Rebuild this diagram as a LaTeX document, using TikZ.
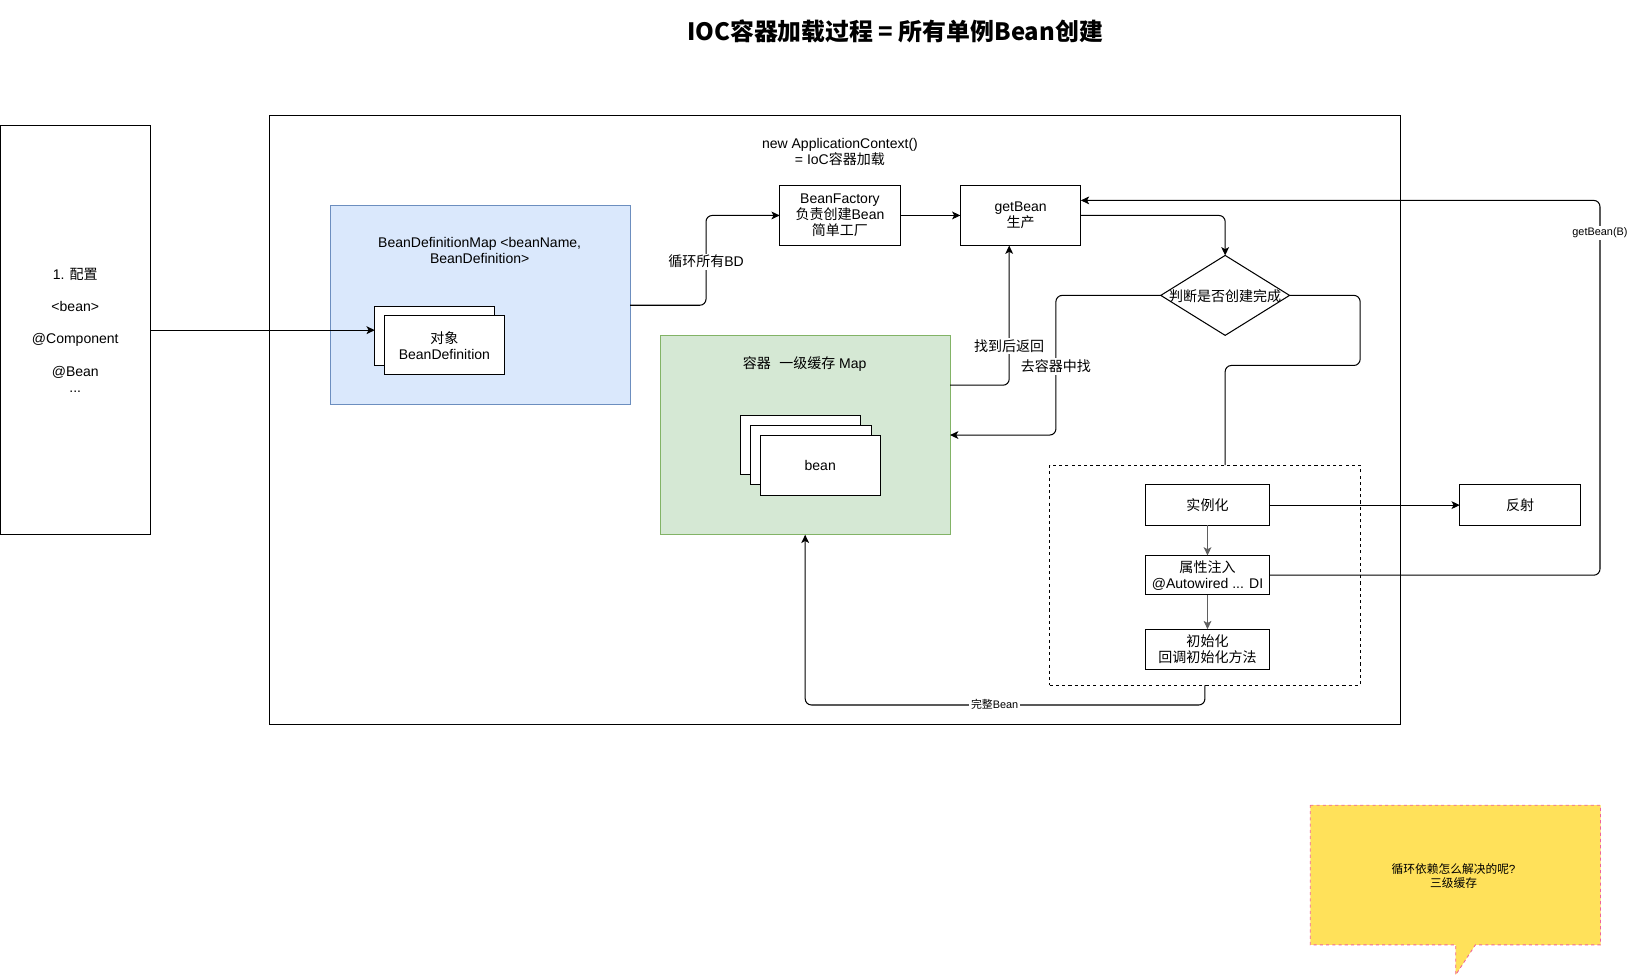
\documentclass[tikz,border=0pt]{standalone}
\usepackage{fontspec}
\setmainfont{Liberation Sans}
\newfontfamily\cjkf{Noto Sans CJK SC}
\newcommand\zh[1]{{\cjkf #1}}
\usetikzlibrary{shapes.geometric,arrows.meta,calc}

\definecolor{bdfill}{HTML}{DAE8FC}
\definecolor{bdline}{HTML}{6C8EBF}
\definecolor{cachefill}{HTML}{D5E8D4}
\definecolor{cacheline}{HTML}{82B366}
\definecolor{notefill}{RGB}{255,225,90}
\definecolor{noteline}{RGB}{240,100,150}
\definecolor{stepline}{RGB}{95,95,95}

\begin{document}
\begin{tikzpicture}[x=1pt,y=-1pt,line width=1pt,
  base/.style={font=\fontsize{13.5}{15.5}\selectfont, align=center, inner sep=0pt, outer sep=0pt},
  box/.style={base, draw, fill=white},
  small/.style={font=\fontsize{10.5}{12.5}\selectfont},
  lbl/.style={base, fill=white, inner sep=1.5pt},
  arr/.style={-{Stealth[length=8pt,width=7.5pt,inset=2pt]}, rounded corners=6pt},
  link/.style={rounded corners=6pt}]

\useasboundingbox (0,0) rectangle (1568,940);

% title
\node[base, font=\fontsize{23}{27}\selectfont\cjkf\bfseries] (title) at (862,30)
  {IOC容器加载过程 = 所有单例Bean创建};

% configuration sources
\node[box, minimum width=144pt, minimum height=394pt] (cfg) at (72.5,318)
  {1. \zh{配置}\\[15.5pt] <bean>\\[15.5pt] @Component\\[15.5pt] @Bean\\ ...};

% application context frame
\node[base, draw, minimum width=1089pt, minimum height=587pt] (ctx) at (804.5,404.5) {};
\node[base] (ctxlbl) at (809,146) {new ApplicationContext()\\ = IoC\zh{容器加载}};

% bean definition map
\node[base, draw=bdline, fill=bdfill, minimum width=289pt, minimum height=192pt] (bdmap) at (462.5,294) {};
\node[base] (bdmaplbl) at (462,241.5) {BeanDefinitionMap <beanName,\\ BeanDefinition>};
\node[box, minimum width=115pt, minimum height=57pt] (bdback) at (418.5,323.5) {};
\node[box, minimum width=116pt, minimum height=57pt] (bdfront) at (428,332.5) {\zh{对象}\\ BeanDefinition};

% factory and getBean
\node[box, minimum width=116pt, minimum height=58pt] (bf) at (809,207.5) {BeanFactory\\ \zh{负责创建}Bean\\ \zh{简单工厂}};
\node[box, minimum width=116pt, minimum height=58pt] (gb) at (983,207.5) {getBean\\ \zh{生产}};

% decision
\node[base, draw, diamond, minimum width=124pt, minimum height=77pt] (dia) at (1180,284.5) {};
\node[base] (dialbl) at (1180,285.5) {\zh{判断是否创建完成}};

% singleton cache
\node[base, draw=cacheline, fill=cachefill, minimum width=279pt, minimum height=192pt] (cache) at (775.5,419) {};
\node[base] (cachelbl) at (775,351) {\zh{容器\hspace{0.6em}一级缓存} Map};
\node[box, minimum width=116pt, minimum height=57pt] (bean1) at (771,428.5) {};
\node[box, minimum width=116pt, minimum height=57pt] (bean2) at (781,438.5) {};
\node[box, minimum width=116pt, minimum height=58pt] (bean3) at (790,448) {bean};

% creation steps
\node[base, draw, dashed, minimum width=299pt, minimum height=212pt] (grp) at (1160.5,554) {};
\node[box, minimum width=120pt, minimum height=39pt] (inst) at (1163,486.5) {\zh{实例化}};
\node[box, minimum width=120pt, minimum height=38pt] (prop) at (1163,554) {\zh{属性注入}\\ @Autowired ... DI};
\node[box, minimum width=120pt, minimum height=39pt] (init) at (1163,625.5) {\zh{初始化}\\ \zh{回调初始化方法}};
\node[box, minimum width=116pt, minimum height=39pt] (refl) at (1464,486.5) {\zh{反射}};

% connectors
\draw[arr] (cfg.east) -- (cfg.east -| bdback.west);
\draw[arr] (bdmap.east) -- ++(73,0) |- (bf.west);
\draw[arr] (bf.east) -- (gb.west);
\draw[arr] (gb.east) -| (dia.north);
\draw[arr] (dia.west) -- ++(-101,0) |- (cache.east);
\draw[arr] (cache.east |- 0,371) -- (972,371) -- (gb.south -| 972,0);
\draw[link] (dia.east) -- ++(68,0) -- ++(0,67.5) -| (grp.north -| dia.south);
\draw[arr, draw=stepline] (inst.south) -- (prop.north);
\draw[arr, draw=stepline] (prop.south) -- (init.north);
\draw[arr] (inst.east) -- (refl.west);
\draw[arr] (prop.east) -| (1541,193) -- (gb.east |- 0,193);
\draw[arr] (grp.south) -- ++(0,19) -| (cache.south);

% connector labels
\node[lbl] (lblloop) at (680,252) {\zh{循环所有}BD};
\node[lbl] (lblfind) at (1017,353) {\zh{去容器中找}};
\node[lbl] (lblback) at (972,333) {\zh{找到后返回}};
\node[lbl, small] (lblgetb) at (1541,224.5) {getBean(B)};
\node[lbl, small] (lbldone) at (958,678.5) {\zh{完整}Bean};

% note callout
\draw[fill=notefill, draw=noteline, dashed, line width=0.8pt]
  (1262,775.5) -- (1541.5,775.5) -- (1541.5,910) -- (1421,910) -- (1402,939)
  -- (1402,910) -- (1262,910) -- cycle;
\node[base, font=\fontsize{11.3}{13.8}\selectfont] (note) at (1400,843.5)
  {\zh{循环依赖怎么解决的呢}?\\ \zh{三级缓存}};
\end{tikzpicture}
\end{document}
